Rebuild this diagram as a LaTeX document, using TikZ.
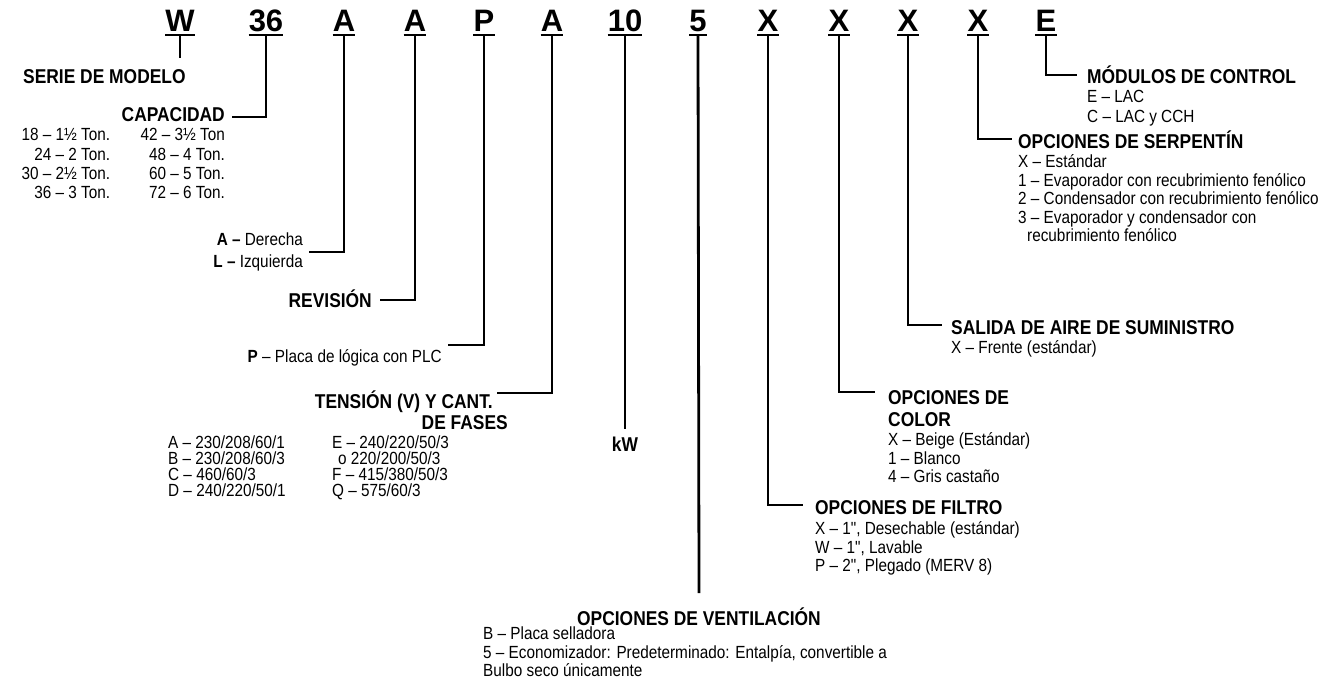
\documentclass[tikz,border=0pt]{standalone}
\usepackage{fontspec}
\setmainfont{Liberation Sans}[FakeStretch=0.87,Ligatures=TeXOff]
\newfontfamily\codefont{Liberation Sans}
\usepackage{tikz}
\usetikzlibrary{positioning}

\begin{document}
\begin{tikzpicture}[
  x=1pt,y=-1pt,
  code/.style={font=\codefont\fontsize{31}{31}\selectfont\bfseries,inner sep=0pt,anchor=base},
  title/.style={font=\fontsize{20}{21}\selectfont\bfseries,inner sep=0pt},
  list/.style={font=\fontsize{17.6}{18.5}\selectfont,inner sep=0pt,align=left},
  lead/.style={line width=2.8pt},
  uline/.style={line width=2pt}
]
\useasboundingbox (0,0) rectangle (1336,679);
\node[code] (nW) at (180,32) {W};
\node[code] (n36) at (266,32) {36};
\node[code] (nA) at (344,32) {A};
\node[code] (nA2) at (415,32) {A};
\node[code] (nP) at (484,32) {P};
\node[code] (nA3) at (552,32) {A};
\node[code] (n10) at (625,32) {10};
\node[code] (n5) at (698,32) {5};
\node[code] (nX) at (768,32) {X};
\node[code] (nX2) at (839,32) {X};
\node[code] (nX3) at (908,32) {X};
\node[code] (nX4) at (978,32) {X};
\node[code] (nE) at (1046,32) {E};
\foreach \n in {nW,n36,nA,nA2,nP,nA3,n10,n5,nX,nX2,nX3,nX4,nE}
  \draw[uline] ([yshift=-3pt]\n.base west) -- ([yshift=-3pt]\n.base east);

\node[title,anchor=base west] (serie) at (23,84) {SERIE DE MODELO};
\coordinate (wend) at (180,58);
\node[title,anchor=base east] (capacidad) at (225,122) {CAPACIDAD};
\node[list,align=right,font=\fontsize{17.6}{19.3}\selectfont,below=6pt of capacidad.south east,anchor=north east] (cap2) {42 – 3½ Ton\\48 – 4 Ton.\\60 – 5 Ton.\\72 – 6 Ton.};
\node[list,align=right,font=\fontsize{17.6}{19.3}\selectfont,left=30pt of cap2.north west,anchor=north east] (cap1) {18 – 1½ Ton.\\24 – 2 Ton.\\30 – 2½ Ton.\\36 – 3 Ton.};
\node[list,align=right,font=\fontsize{17.6}{22}\selectfont,anchor=east] (orient) at (303,252) {\textbf{A –} Derecha\\\textbf{L –} Izquierda};
\node[title,anchor=base east] (revision) at (372,307) {REVISIÓN};
\node[list,anchor=base east] (placa) at (442,362) {\textbf{P} – Placa de lógica con PLC};
\node[title,align=right,anchor=north east] (tension) at (508,391) {TENSIÓN (V) Y CANT.\hspace*{15pt}\\DE FASES};
\node[list,font=\fontsize{17.6}{16}\selectfont,anchor=north west] (volt1) at (168,436) {A – 230/208/60/1\\B – 230/208/60/3\\C – 460/60/3\\D – 240/220/50/1};
\node[list,font=\fontsize{17.6}{16}\selectfont,anchor=north west] (volt2) at (332,436) {E – 240/220/50/3\\\hspace*{6pt}o 220/200/50/3\\F – 415/380/50/3\\Q – 575/60/3};
\node[title,anchor=base] (kw) at (625,451) {kW};
\node[title,anchor=base] (vent) at (699,625) {OPCIONES DE VENTILACIÓN};
\node[list,anchor=north west] (ventlist) at (483,627) {B – Placa selladora\\5 – Economizador: Predeterminado: Entalpía, convertible a\\Bulbo seco únicamente};

\node[title,anchor=base west] (modulos) at (1087,84) {MÓDULOS DE CONTROL};
\node[list,font=\fontsize{17.6}{20}\selectfont,below=6pt of modulos.south west,anchor=north west] (modlist) {E – LAC\\C – LAC y CCH};
\node[title,anchor=base west] (serpentin) at (1018,149) {OPCIONES DE SERPENTÍN};
\node[list,below=5pt of serpentin.south west,anchor=north west] (serplist) {X – Estándar\\1 – Evaporador con recubrimiento fenólico\\2 – Condensador con recubrimiento fenólico\\3 – Evaporador y condensador con\\\hspace*{9pt}recubrimiento fenólico};
\node[title,anchor=base west] (salida) at (951,334) {SALIDA DE AIRE DE SUMINISTRO};
\node[list,below=6pt of salida.south west,anchor=north west] (salidalist) {X – Frente (estándar)};
\node[title,align=left,font=\fontsize{20}{22}\selectfont\bfseries,anchor=north west] (color) at (888,390) {OPCIONES DE\\COLOR};
\node[list,below=6pt of color.south west,anchor=north west] (colorlist) {X – Beige (Estándar)\\1 – Blanco\\4 – Gris castaño};
\node[title,anchor=base west] (filtro) at (815,514) {OPCIONES DE FILTRO};
\node[list,below=7pt of filtro.south west,anchor=north west] (filtrolist) {X – 1", Desechable (estándar)\\W – 1", Lavable\\P – 2", Plegado (MERV 8)};

\draw[lead] ([yshift=-4pt]nW.base) -- (wend);
\draw[lead] ([yshift=-4pt]n36.base) |- ([shift={(7pt,5pt)}]capacidad.base east);
\draw[lead] ([yshift=-4pt]nA.base) |- ([xshift=6pt]orient.east);
\draw[lead] ([yshift=-4pt]nA2.base) |- ([shift={(8pt,7pt)}]revision.base east);
\draw[lead] ([yshift=-4pt]nP.base) |- ([shift={(6pt,17pt)}]placa.base east);
\draw[lead] ([yshift=-4pt]nA3.base) |- ([shift={(-11pt,-2pt)}]tension.north east);
\draw[lead] ([yshift=-4pt]n10.base) -- ([yshift=7pt]kw.north);
\draw[lead] ([yshift=-4pt]n5.base) -- ([yshift=14pt]vent.north);
\draw[lead] ([yshift=-4pt]nX.base) |- ([shift={(-12pt,9pt)}]filtro.base west);
\draw[lead] ([yshift=-4pt]nX2.base) |- ([shift={(-13pt,-2pt)}]color.north west);
\draw[lead] ([yshift=-4pt]nX3.base) |- ([shift={(-9pt,9pt)}]salida.base west);
\draw[lead] ([yshift=-4pt]nX4.base) |- ([shift={(-6pt,10pt)}]serpentin.base west);
\draw[lead] ([yshift=-4pt]nE.base) |- ([shift={(-10pt,9pt)}]modulos.base west);
\end{tikzpicture}
\end{document}
